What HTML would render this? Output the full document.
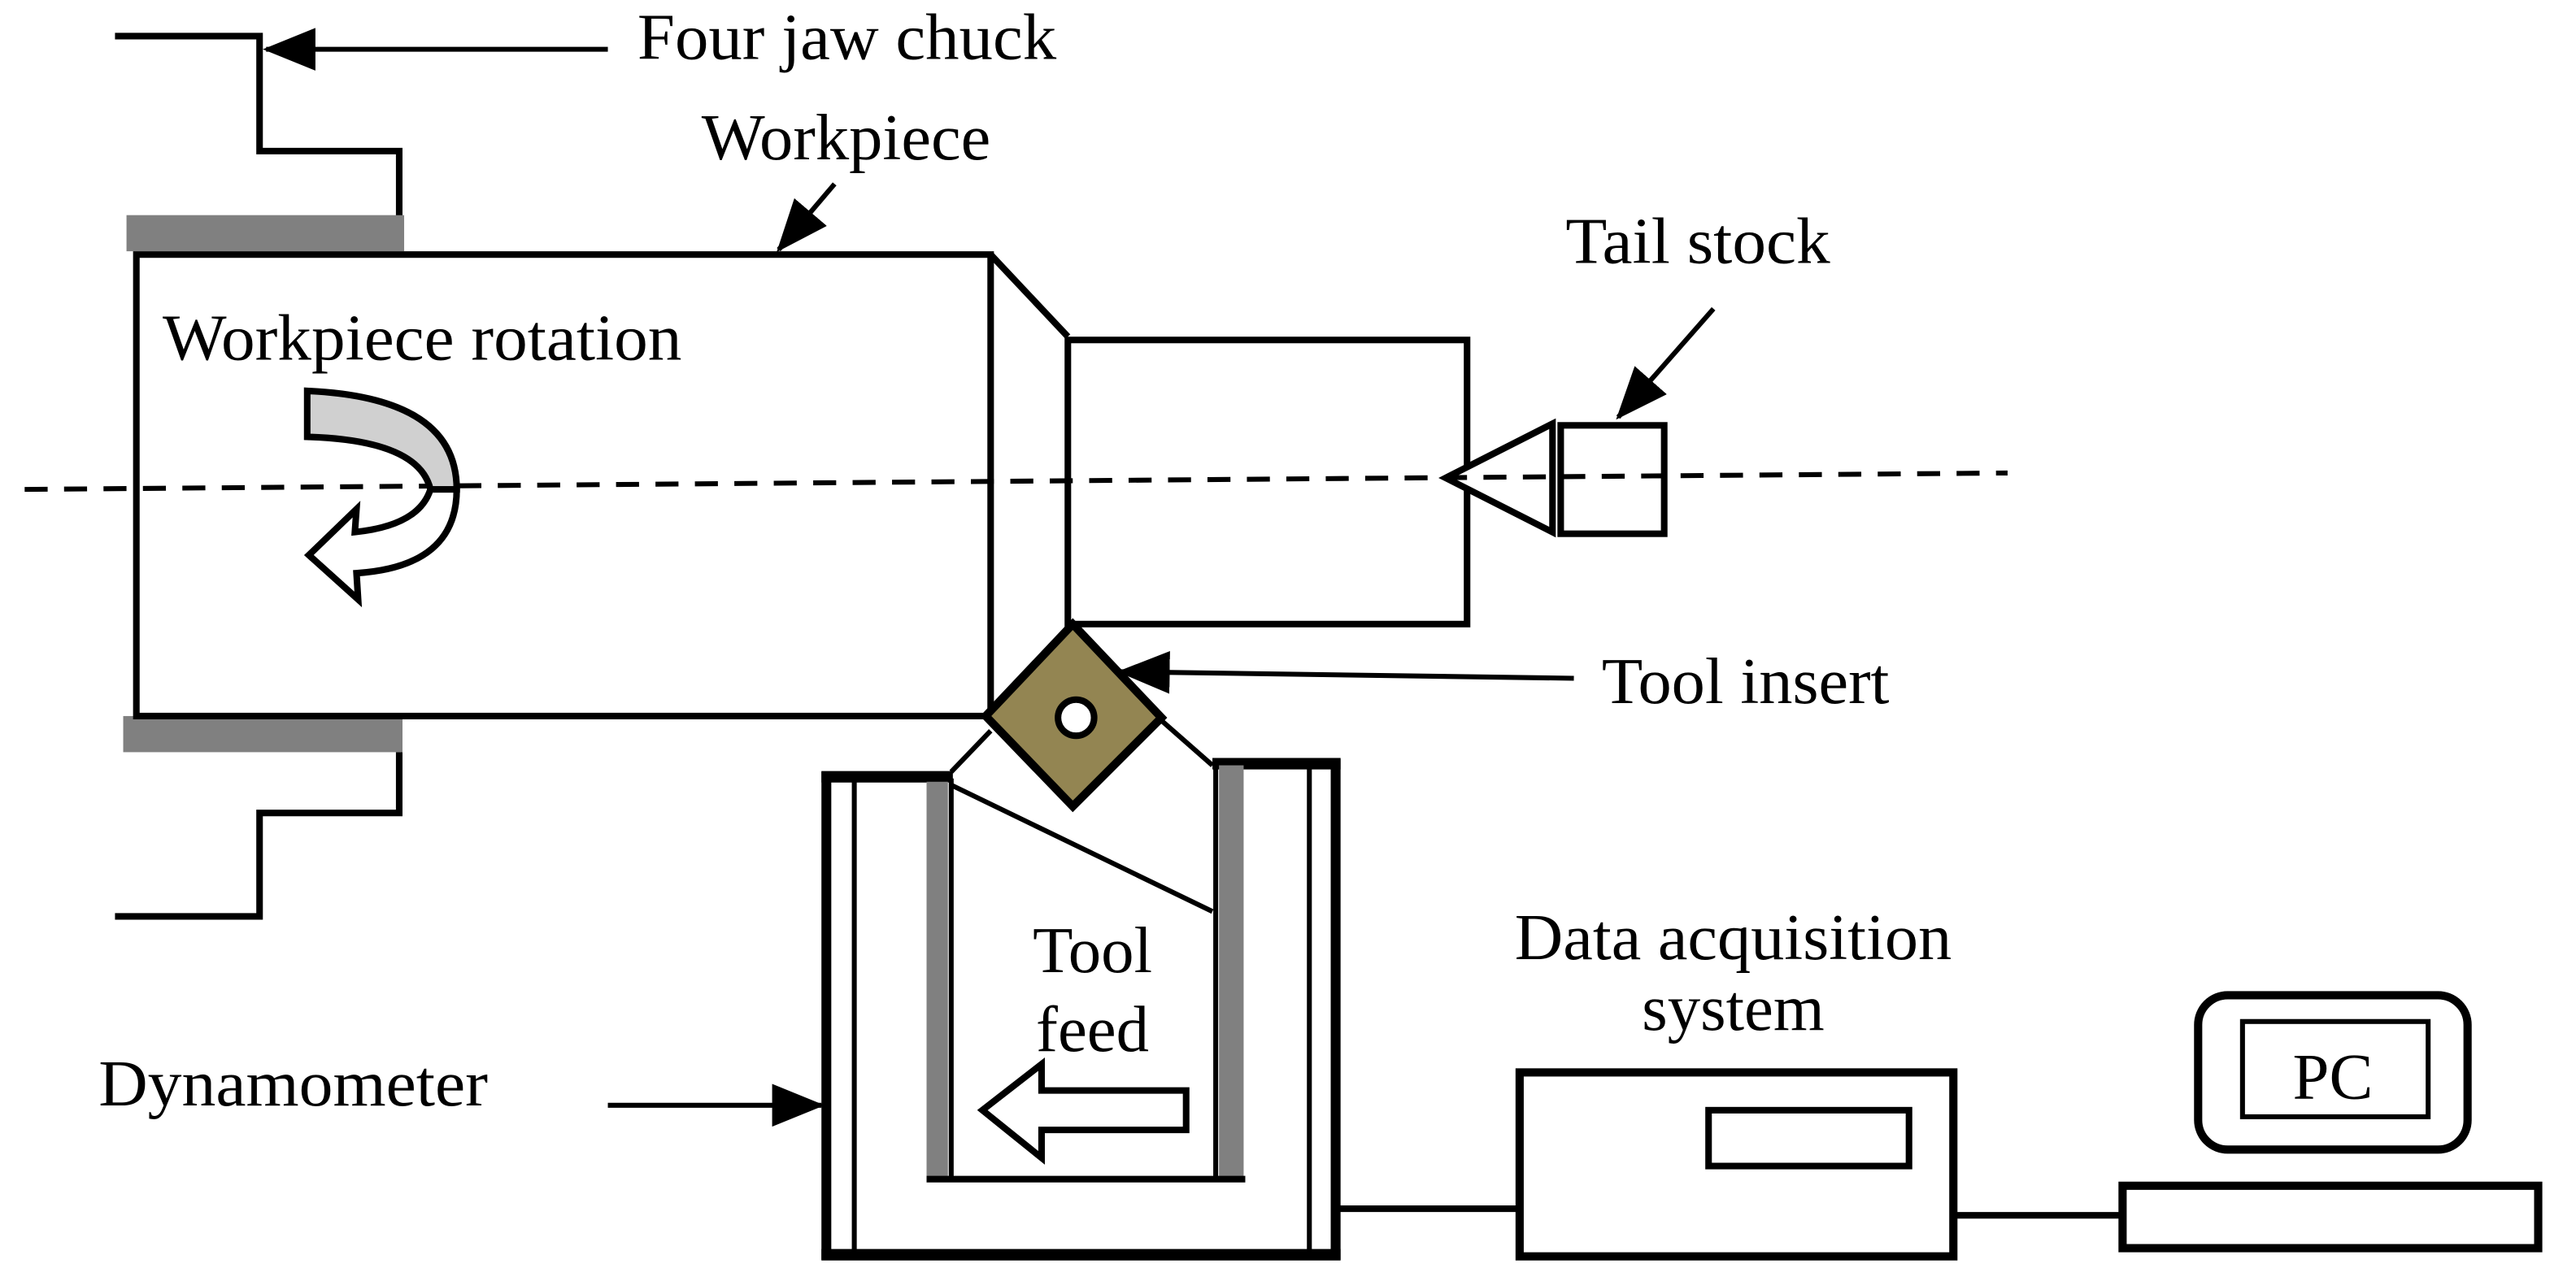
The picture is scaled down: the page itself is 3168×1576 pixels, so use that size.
<!DOCTYPE html>
<html><head><style>html,body{margin:0;padding:0;background:#fff}svg{display:block}</style></head>
<body>
<svg width="3168" height="1576" viewBox="0 0 1568 780" preserveAspectRatio="none" xmlns="http://www.w3.org/2000/svg" font-family="'Liberation Serif', serif" font-size="40" fill="none" stroke="#000" stroke-width="4">
<defs>
<marker id="ah2" markerWidth="32" markerHeight="26" refX="30" refY="13" orient="auto" markerUnits="userSpaceOnUse"><path d="M0,0 L32,13 L0,26 Z" fill="#000" stroke="none"/></marker></defs>
<!-- chuck -->
<polyline points="70,22 158,22 158,92 243,92 243,133"/>
<rect x="77" y="131" width="169" height="22" fill="#808080" stroke="none"/>
<polyline points="243,458 243,495 158,495 158,558 70,558"/>
<rect x="75" y="436" width="170" height="22" fill="#808080" stroke="none"/>
<line x1="370" y1="30" x2="162" y2="30" stroke-width="3" marker-end="url(#ah2)"/>
<text x="388" y="36" fill="#000" stroke="none" textLength="255" lengthAdjust="spacingAndGlyphs">Four jaw chuck</text>
<!-- workpiece -->
<rect x="83" y="155" width="520" height="281" fill="#fff"/>
<text x="427" y="97" fill="#000" stroke="none" textLength="176" lengthAdjust="spacingAndGlyphs">Workpiece</text>
<line x1="508" y1="112" x2="474" y2="152" stroke-width="3" marker-end="url(#ah2)"/>
<line x1="603" y1="155" x2="650" y2="205"/>
<rect x="650" y="207" width="243" height="173"/>
<!-- tail stock -->
<path d="M880,291 L945,258 L945,324 Z" fill="#fff"/>
<rect x="950" y="259" width="63" height="66"/>
<line x1="1043" y1="188" x2="985" y2="254" stroke-width="3" marker-end="url(#ah2)"/>
<text x="953" y="160" fill="#000" stroke="none" textLength="161" lengthAdjust="spacingAndGlyphs">Tail stock</text>
<!-- axis -->
<line x1="15" y1="298" x2="1222" y2="288" stroke-width="3" stroke-dasharray="14 10"/>
<text x="99" y="219" fill="#000" stroke="none" textLength="316" lengthAdjust="spacingAndGlyphs">Workpiece rotation</text>
<path d="M187,238 Q278,242 278,298 L262,298 Q255,268 187,266 Z" fill="#d0d0d0" stroke-width="4"/>
<path d="M278,298 Q278,345 217,349 L218,365 L188,338 L217,310 L216,324 Q255,320 262,298 Z" fill="#fff" stroke-width="4"/>
<!-- dynamometer -->
<line x1="503" y1="470" x2="503" y2="767" stroke-width="6"/>
<line x1="520" y1="474" x2="520" y2="762" stroke-width="3"/>
<line x1="500" y1="764" x2="816" y2="764" stroke-width="7"/>
<line x1="813" y1="462" x2="813" y2="767" stroke-width="6"/>
<line x1="797" y1="466" x2="797" y2="762" stroke-width="3"/>
<line x1="500" y1="473" x2="580" y2="473" stroke-width="7"/>
<line x1="738" y1="465" x2="816" y2="465" stroke-width="7"/>
<rect x="564" y="476" width="13" height="242" fill="#808080" stroke="none"/>
<rect x="742" y="466" width="15" height="252" fill="#808080" stroke="none"/>
<line x1="579" y1="474" x2="579" y2="718" stroke-width="3"/>
<line x1="740" y1="466" x2="740" y2="718" stroke-width="3"/>
<line x1="564" y1="718" x2="758" y2="718" stroke-width="4"/>
<line x1="579" y1="478" x2="738" y2="555" stroke-width="3"/>
<line x1="579" y1="470" x2="603" y2="445" stroke-width="3"/>
<line x1="705" y1="437" x2="738" y2="466" stroke-width="3"/>
<!-- insert -->
<path d="M653,380 L707,437 L653,491 L600,436 Z" fill="#938552" stroke-width="5"/>
<circle cx="655" cy="437" r="11" fill="#fff" stroke-width="4"/>
<line x1="958" y1="413" x2="682" y2="409" stroke-width="3" marker-end="url(#ah2)"/>
<text x="975" y="428" fill="#000" stroke="none" textLength="175" lengthAdjust="spacingAndGlyphs">Tool insert</text>
<text x="665" y="592" fill="#000" stroke="none" text-anchor="middle">Tool</text>
<text x="665" y="640" fill="#000" stroke="none" text-anchor="middle">feed</text>
<path d="M598,676 L634,648 L634,664 L722,664 L722,688 L634,688 L634,705 Z" fill="#fff" stroke-width="4"/>
<line x1="370" y1="673" x2="500" y2="673" stroke-width="3" marker-end="url(#ah2)"/>
<text x="60" y="673" fill="#000" stroke="none" textLength="237" lengthAdjust="spacingAndGlyphs">Dynamometer</text>
<!-- DAQ -->
<line x1="813" y1="736" x2="925" y2="736" stroke-width="4"/>
<rect x="925" y="653" width="264" height="112" stroke-width="5"/>
<rect x="1040" y="676" width="122" height="34" stroke-width="4"/>
<text x="1055" y="584" fill="#000" stroke="none" text-anchor="middle" textLength="266" lengthAdjust="spacingAndGlyphs">Data acquisition</text>
<text x="1055" y="627" fill="#000" stroke="none" text-anchor="middle">system</text>
<line x1="1189" y1="740" x2="1292" y2="740" stroke-width="4"/>
<rect x="1292" y="722" width="253" height="38" stroke-width="5"/>
<rect x="1338" y="606" width="164" height="94" rx="18" stroke-width="5"/>
<rect x="1365" y="622" width="113" height="58" stroke-width="3"/>
<text x="1420" y="669" fill="#000" stroke="none" text-anchor="middle">PC</text>
</svg>
</body></html>
